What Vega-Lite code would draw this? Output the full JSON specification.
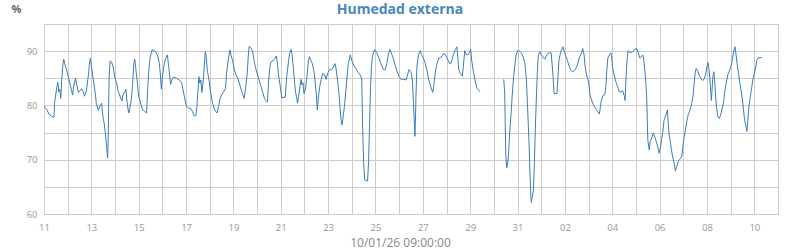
{
  "$schema": "https://vega.github.io/schema/vega-lite/v6.json",
  "width": 734,
  "height": 190,
  "autosize": {"type": "none"},
  "padding": {"left": 44, "top": 24, "right": 22, "bottom": 36},
  "background": "white",
  "title": {"text": "Humedad externa", "color": "#4a86c0", "fontSize": 14, "fontWeight": "bold", "font": "Open Sans", "anchor": "middle", "frame": "group", "offset": 9, "dx": -11, "dy": 34, "baseline": "alphabetic"},
  "config": {"view": {"stroke": "#cccccc", "strokeWidth": 1}, "font": "Open Sans"},
  "data": {"values": [
{"t":"2026-01-11T00:00Z","h":79.9},{"t":"2026-01-11T03:00Z","h":79.2},{"t":"2026-01-11T05:00Z","h":78.4},{"t":"2026-01-11T08:00Z","h":78.0},{"t":"2026-01-11T10:00Z","h":77.8},{"t":"2026-01-11T11:00Z","h":80.9},{"t":"2026-01-11T13:00Z","h":83.3},{"t":"2026-01-11T14:00Z","h":84.3},{"t":"2026-01-11T15:00Z","h":82.5},{"t":"2026-01-11T16:00Z","h":83.0},{"t":"2026-01-11T17:00Z","h":81.3},{"t":"2026-01-11T18:00Z","h":84.8},{"t":"2026-01-11T19:00Z","h":87.2},{"t":"2026-01-11T20:00Z","h":88.5},{"t":"2026-01-11T21:00Z","h":87.7},{"t":"2026-01-11T23:00Z","h":86.5},
{"t":"2026-01-12T01:00Z","h":85.0},{"t":"2026-01-12T03:00Z","h":83.5},{"t":"2026-01-12T05:00Z","h":81.9},{"t":"2026-01-12T06:00Z","h":83.5},{"t":"2026-01-12T08:00Z","h":85.0},{"t":"2026-01-12T09:00Z","h":83.9},{"t":"2026-01-12T11:00Z","h":82.4},{"t":"2026-01-12T13:00Z","h":82.8},{"t":"2026-01-12T14:00Z","h":83.1},{"t":"2026-01-12T16:00Z","h":82.5},{"t":"2026-01-12T17:00Z","h":81.7},{"t":"2026-01-12T19:00Z","h":82.7},{"t":"2026-01-12T21:00Z","h":85.6},{"t":"2026-01-12T22:00Z","h":87.6},{"t":"2026-01-12T23:00Z","h":88.7},
{"t":"2026-01-13T00:00Z","h":87.4},{"t":"2026-01-13T02:00Z","h":84.7},{"t":"2026-01-13T04:00Z","h":82.2},{"t":"2026-01-13T05:00Z","h":80.4},{"t":"2026-01-13T07:00Z","h":79.1},{"t":"2026-01-13T08:00Z","h":79.5},{"t":"2026-01-13T09:00Z","h":80.0},{"t":"2026-01-13T10:30Z","h":80.4},{"t":"2026-01-13T11:00Z","h":79.2},{"t":"2026-01-13T12:00Z","h":77.6},{"t":"2026-01-13T13:00Z","h":76.7},{"t":"2026-01-13T14:00Z","h":75.2},{"t":"2026-01-13T15:00Z","h":73.4},{"t":"2026-01-13T16:00Z","h":71.2},{"t":"2026-01-13T16:30Z","h":70.3},{"t":"2026-01-13T17:00Z","h":73.4},{"t":"2026-01-13T17:30Z","h":79.2},{"t":"2026-01-13T18:00Z","h":85.3},{"t":"2026-01-13T19:00Z","h":88.2},{"t":"2026-01-13T20:30Z","h":88.0},{"t":"2026-01-13T22:00Z","h":87.1},
{"t":"2026-01-14T00:00Z","h":85.0},{"t":"2026-01-14T02:00Z","h":83.8},{"t":"2026-01-14T03:00Z","h":82.7},{"t":"2026-01-14T05:00Z","h":81.7},{"t":"2026-01-14T07:00Z","h":80.8},{"t":"2026-01-14T08:00Z","h":81.9},{"t":"2026-01-14T09:30Z","h":82.4},{"t":"2026-01-14T11:00Z","h":83.0},{"t":"2026-01-14T12:00Z","h":81.0},{"t":"2026-01-14T13:00Z","h":79.5},{"t":"2026-01-14T14:00Z","h":78.6},{"t":"2026-01-14T15:00Z","h":79.5},{"t":"2026-01-14T16:30Z","h":81.0},{"t":"2026-01-14T18:00Z","h":84.4},{"t":"2026-01-14T19:00Z","h":87.7},{"t":"2026-01-14T20:00Z","h":88.5},{"t":"2026-01-14T21:00Z","h":86.8},{"t":"2026-01-14T22:30Z","h":84.4},
{"t":"2026-01-15T00:00Z","h":81.6},{"t":"2026-01-15T02:00Z","h":80.4},{"t":"2026-01-15T04:00Z","h":79.2},{"t":"2026-01-15T06:00Z","h":78.9},{"t":"2026-01-15T08:00Z","h":78.6},{"t":"2026-01-15T09:00Z","h":82.8},{"t":"2026-01-15T10:00Z","h":85.9},{"t":"2026-01-15T11:30Z","h":88.7},{"t":"2026-01-15T13:00Z","h":89.9},{"t":"2026-01-15T14:00Z","h":90.3},{"t":"2026-01-15T16:30Z","h":90.0},{"t":"2026-01-15T19:00Z","h":89.3},{"t":"2026-01-15T21:00Z","h":87.7},{"t":"2026-01-15T22:00Z","h":85.6},{"t":"2026-01-15T23:00Z","h":83.0},
{"t":"2026-01-16T00:00Z","h":85.3},{"t":"2026-01-16T02:00Z","h":87.7},{"t":"2026-01-16T03:30Z","h":88.8},{"t":"2026-01-16T05:00Z","h":89.3},{"t":"2026-01-16T06:30Z","h":87.1},{"t":"2026-01-16T08:00Z","h":84.4},{"t":"2026-01-16T08:30Z","h":83.9},{"t":"2026-01-16T09:30Z","h":84.7},{"t":"2026-01-16T11:00Z","h":85.2},{"t":"2026-01-16T14:30Z","h":85.0},{"t":"2026-01-16T17:00Z","h":84.7},{"t":"2026-01-16T19:30Z","h":84.2},{"t":"2026-01-16T21:00Z","h":82.8},{"t":"2026-01-16T23:00Z","h":81.0},
{"t":"2026-01-17T00:30Z","h":79.8},{"t":"2026-01-17T02:30Z","h":79.5},{"t":"2026-01-17T04:30Z","h":79.5},{"t":"2026-01-17T06:30Z","h":78.9},{"t":"2026-01-17T08:00Z","h":78.1},{"t":"2026-01-17T10:00Z","h":78.1},{"t":"2026-01-17T11:00Z","h":79.8},{"t":"2026-01-17T12:00Z","h":82.8},{"t":"2026-01-17T13:00Z","h":85.3},{"t":"2026-01-17T14:00Z","h":84.1},{"t":"2026-01-17T15:00Z","h":84.7},{"t":"2026-01-17T16:00Z","h":82.4},{"t":"2026-01-17T17:30Z","h":84.7},{"t":"2026-01-17T18:30Z","h":87.4},{"t":"2026-01-17T19:30Z","h":89.9},{"t":"2026-01-17T20:30Z","h":89.0},{"t":"2026-01-17T21:30Z","h":86.5},{"t":"2026-01-17T23:30Z","h":84.4},
{"t":"2026-01-18T01:00Z","h":82.2},{"t":"2026-01-18T02:30Z","h":80.7},{"t":"2026-01-18T04:30Z","h":79.5},{"t":"2026-01-18T06:00Z","h":78.9},{"t":"2026-01-18T07:30Z","h":78.6},{"t":"2026-01-18T09:00Z","h":79.8},{"t":"2026-01-18T10:30Z","h":81.3},{"t":"2026-01-18T12:00Z","h":81.9},{"t":"2026-01-18T14:00Z","h":82.5},{"t":"2026-01-18T16:00Z","h":83.1},{"t":"2026-01-18T17:00Z","h":85.9},{"t":"2026-01-18T19:00Z","h":88.7},{"t":"2026-01-18T20:30Z","h":90.2},{"t":"2026-01-18T21:30Z","h":89.3},{"t":"2026-01-18T23:30Z","h":88.0},
{"t":"2026-01-19T01:00Z","h":86.5},{"t":"2026-01-19T02:30Z","h":85.7},{"t":"2026-01-19T05:00Z","h":84.7},{"t":"2026-01-19T07:00Z","h":83.5},{"t":"2026-01-19T09:00Z","h":82.2},{"t":"2026-01-19T11:00Z","h":81.3},{"t":"2026-01-19T12:30Z","h":83.5},{"t":"2026-01-19T14:00Z","h":85.9},{"t":"2026-01-19T15:00Z","h":89.0},{"t":"2026-01-19T16:00Z","h":90.9},{"t":"2026-01-19T18:00Z","h":90.5},{"t":"2026-01-19T19:30Z","h":89.9},{"t":"2026-01-19T21:30Z","h":87.7},{"t":"2026-01-19T23:30Z","h":86.2},
{"t":"2026-01-20T01:30Z","h":85.0},{"t":"2026-01-20T03:30Z","h":83.8},{"t":"2026-01-20T05:30Z","h":82.5},{"t":"2026-01-20T07:30Z","h":81.3},{"t":"2026-01-20T09:00Z","h":80.9},{"t":"2026-01-20T10:30Z","h":80.6},{"t":"2026-01-20T11:30Z","h":84.1},{"t":"2026-01-20T13:00Z","h":87.1},{"t":"2026-01-20T14:00Z","h":88.0},{"t":"2026-01-20T16:00Z","h":88.2},{"t":"2026-01-20T17:30Z","h":88.5},{"t":"2026-01-20T19:30Z","h":89.1},{"t":"2026-01-20T20:30Z","h":88.0},{"t":"2026-01-20T21:30Z","h":85.9},{"t":"2026-01-20T23:30Z","h":83.5},
{"t":"2026-01-21T01:00Z","h":81.4},{"t":"2026-01-21T02:30Z","h":81.5},{"t":"2026-01-21T04:30Z","h":81.5},{"t":"2026-01-21T06:00Z","h":85.3},{"t":"2026-01-21T08:00Z","h":88.3},{"t":"2026-01-21T09:00Z","h":89.6},{"t":"2026-01-21T10:30Z","h":90.3},{"t":"2026-01-21T11:30Z","h":89.3},{"t":"2026-01-21T13:00Z","h":86.5},{"t":"2026-01-21T14:00Z","h":84.1},{"t":"2026-01-21T15:00Z","h":82.4},{"t":"2026-01-21T16:00Z","h":81.5},{"t":"2026-01-21T17:00Z","h":80.4},{"t":"2026-01-21T18:00Z","h":81.6},{"t":"2026-01-21T19:30Z","h":83.5},{"t":"2026-01-21T20:30Z","h":84.8},{"t":"2026-01-21T21:30Z","h":83.8},{"t":"2026-01-21T22:30Z","h":84.2},{"t":"2026-01-21T23:30Z","h":82.2},
{"t":"2026-01-22T01:00Z","h":83.0},{"t":"2026-01-22T02:30Z","h":85.3},{"t":"2026-01-22T04:00Z","h":88.3},{"t":"2026-01-22T05:00Z","h":89.0},{"t":"2026-01-22T06:30Z","h":88.3},{"t":"2026-01-22T08:00Z","h":87.7},{"t":"2026-01-22T10:00Z","h":85.9},{"t":"2026-01-22T11:00Z","h":84.1},{"t":"2026-01-22T12:00Z","h":82.2},{"t":"2026-01-22T13:00Z","h":79.2},{"t":"2026-01-22T14:00Z","h":81.3},{"t":"2026-01-22T15:30Z","h":83.5},{"t":"2026-01-22T17:00Z","h":84.8},{"t":"2026-01-22T18:30Z","h":85.9},{"t":"2026-01-22T20:30Z","h":85.6},{"t":"2026-01-22T22:00Z","h":84.8},{"t":"2026-01-22T23:30Z","h":85.9},
{"t":"2026-01-23T01:30Z","h":86.6},{"t":"2026-01-23T03:30Z","h":86.6},{"t":"2026-01-23T05:30Z","h":87.1},{"t":"2026-01-23T07:00Z","h":87.7},{"t":"2026-01-23T08:00Z","h":86.8},{"t":"2026-01-23T09:30Z","h":84.7},{"t":"2026-01-23T11:00Z","h":82.2},{"t":"2026-01-23T12:00Z","h":79.8},{"t":"2026-01-23T13:00Z","h":77.6},{"t":"2026-01-23T14:00Z","h":76.4},{"t":"2026-01-23T15:00Z","h":77.6},{"t":"2026-01-23T16:30Z","h":79.8},{"t":"2026-01-23T18:00Z","h":82.8},{"t":"2026-01-23T19:30Z","h":85.9},{"t":"2026-01-23T20:30Z","h":87.7},{"t":"2026-01-23T22:30Z","h":89.3},
{"t":"2026-01-24T00:00Z","h":88.3},{"t":"2026-01-24T02:00Z","h":87.4},{"t":"2026-01-24T04:00Z","h":86.8},{"t":"2026-01-24T06:00Z","h":86.2},{"t":"2026-01-24T08:00Z","h":85.8},{"t":"2026-01-24T10:00Z","h":85.0},{"t":"2026-01-24T11:00Z","h":75.8},{"t":"2026-01-24T12:00Z","h":69.5},{"t":"2026-01-24T13:00Z","h":66.3},{"t":"2026-01-24T16:00Z","h":66.1},{"t":"2026-01-24T17:00Z","h":69.6},{"t":"2026-01-24T18:00Z","h":76.5},{"t":"2026-01-24T19:00Z","h":83.5},{"t":"2026-01-24T20:00Z","h":87.4},{"t":"2026-01-24T21:00Z","h":89.0},{"t":"2026-01-24T23:00Z","h":90.3},
{"t":"2026-01-25T01:30Z","h":89.6},{"t":"2026-01-25T03:30Z","h":88.7},{"t":"2026-01-25T05:30Z","h":87.7},{"t":"2026-01-25T08:00Z","h":86.6},{"t":"2026-01-25T10:00Z","h":86.6},{"t":"2026-01-25T11:30Z","h":87.7},{"t":"2026-01-25T13:00Z","h":89.3},{"t":"2026-01-25T14:30Z","h":90.3},{"t":"2026-01-25T16:00Z","h":89.7},{"t":"2026-01-25T18:00Z","h":88.7},{"t":"2026-01-25T20:00Z","h":87.4},{"t":"2026-01-25T22:00Z","h":86.2},
{"t":"2026-01-26T00:00Z","h":85.3},{"t":"2026-01-26T02:00Z","h":84.8},{"t":"2026-01-26T04:30Z","h":84.8},{"t":"2026-01-26T07:00Z","h":84.7},{"t":"2026-01-26T08:30Z","h":85.6},{"t":"2026-01-26T10:00Z","h":86.6},{"t":"2026-01-26T12:00Z","h":86.2},{"t":"2026-01-26T13:30Z","h":84.5},{"t":"2026-01-26T14:30Z","h":80.4},{"t":"2026-01-26T15:30Z","h":76.4},{"t":"2026-01-26T16:00Z","h":74.3},{"t":"2026-01-26T16:30Z","h":77.3},{"t":"2026-01-26T17:00Z","h":81.6},{"t":"2026-01-26T18:00Z","h":87.1},{"t":"2026-01-26T19:30Z","h":89.3},{"t":"2026-01-26T21:30Z","h":90.1},{"t":"2026-01-26T22:30Z","h":89.4},
{"t":"2026-01-27T00:30Z","h":88.8},{"t":"2026-01-27T02:30Z","h":87.7},{"t":"2026-01-27T04:30Z","h":86.2},{"t":"2026-01-27T06:00Z","h":84.7},{"t":"2026-01-27T08:00Z","h":83.5},{"t":"2026-01-27T10:00Z","h":82.4},{"t":"2026-01-27T11:00Z","h":83.5},{"t":"2026-01-27T12:30Z","h":85.9},{"t":"2026-01-27T14:00Z","h":87.4},{"t":"2026-01-27T16:00Z","h":88.7},{"t":"2026-01-27T17:30Z","h":88.8},{"t":"2026-01-27T19:30Z","h":89.0},{"t":"2026-01-27T21:30Z","h":89.6},{"t":"2026-01-27T23:00Z","h":89.3},
{"t":"2026-01-28T00:30Z","h":88.7},{"t":"2026-01-28T02:30Z","h":88.0},{"t":"2026-01-28T04:00Z","h":87.6},{"t":"2026-01-28T05:30Z","h":88.3},{"t":"2026-01-28T07:00Z","h":89.4},{"t":"2026-01-28T09:00Z","h":90.3},{"t":"2026-01-28T10:30Z","h":90.8},{"t":"2026-01-28T11:30Z","h":88.7},{"t":"2026-01-28T12:30Z","h":86.5},{"t":"2026-01-28T14:00Z","h":85.9},{"t":"2026-01-28T16:00Z","h":85.4},{"t":"2026-01-28T17:00Z","h":87.1},{"t":"2026-01-28T18:30Z","h":90.1},{"t":"2026-01-28T20:00Z","h":89.4},{"t":"2026-01-28T21:30Z","h":89.3},{"t":"2026-01-28T23:00Z","h":89.7},
{"t":"2026-01-29T00:30Z","h":90.3},{"t":"2026-01-29T01:30Z","h":88.3},{"t":"2026-01-29T03:00Z","h":86.5},{"t":"2026-01-29T04:30Z","h":85.0},{"t":"2026-01-29T05:30Z","h":84.1},{"t":"2026-01-29T07:00Z","h":83.1},{"t":"2026-01-29T08:30Z","h":82.8},{"t":"2026-01-29T10:00Z","h":82.5},{"t":"2026-01-29T22:00Z","h":null},
{"t":"2026-01-30T10:00Z","h":84.8},{"t":"2026-01-30T11:00Z","h":82.2},{"t":"2026-01-30T11:30Z","h":76.7},{"t":"2026-01-30T12:00Z","h":71.2},{"t":"2026-01-30T13:00Z","h":68.5},{"t":"2026-01-30T14:00Z","h":69.4},{"t":"2026-01-30T15:00Z","h":71.2},{"t":"2026-01-30T16:00Z","h":74.9},{"t":"2026-01-30T17:30Z","h":78.6},{"t":"2026-01-30T18:30Z","h":81.6},{"t":"2026-01-30T20:00Z","h":85.3},{"t":"2026-01-30T21:30Z","h":87.7},{"t":"2026-01-30T22:30Z","h":89.3},
{"t":"2026-01-31T00:30Z","h":90.2},{"t":"2026-01-31T02:30Z","h":89.9},{"t":"2026-01-31T04:00Z","h":89.6},{"t":"2026-01-31T05:30Z","h":89.0},{"t":"2026-01-31T07:30Z","h":87.7},{"t":"2026-01-31T09:00Z","h":84.7},{"t":"2026-01-31T10:00Z","h":80.4},{"t":"2026-01-31T11:30Z","h":73.7},{"t":"2026-01-31T12:30Z","h":68.2},{"t":"2026-01-31T13:30Z","h":63.3},{"t":"2026-01-31T14:00Z","h":62.1},{"t":"2026-01-31T15:00Z","h":63.3},{"t":"2026-01-31T16:00Z","h":64.2},{"t":"2026-01-31T17:00Z","h":68.8},{"t":"2026-01-31T18:00Z","h":75.5},{"t":"2026-01-31T19:00Z","h":81.0},{"t":"2026-01-31T20:00Z","h":85.9},{"t":"2026-01-31T21:00Z","h":89.1},{"t":"2026-01-31T22:30Z","h":89.9},
{"t":"2026-02-01T00:00Z","h":89.4},{"t":"2026-02-01T01:30Z","h":89.0},{"t":"2026-02-01T03:30Z","h":88.5},{"t":"2026-02-01T05:00Z","h":89.1},{"t":"2026-02-01T07:00Z","h":89.6},{"t":"2026-02-01T08:30Z","h":89.7},{"t":"2026-02-01T10:00Z","h":89.7},{"t":"2026-02-01T11:00Z","h":87.7},{"t":"2026-02-01T12:00Z","h":85.3},{"t":"2026-02-01T13:00Z","h":82.2},{"t":"2026-02-01T16:00Z","h":82.2},{"t":"2026-02-01T17:00Z","h":85.3},{"t":"2026-02-01T18:00Z","h":88.3},{"t":"2026-02-01T19:30Z","h":89.7},{"t":"2026-02-01T20:30Z","h":90.2},{"t":"2026-02-01T22:00Z","h":90.8},{"t":"2026-02-01T23:30Z","h":89.9},
{"t":"2026-02-02T00:30Z","h":89.3},{"t":"2026-02-02T02:30Z","h":88.3},{"t":"2026-02-02T04:00Z","h":87.4},{"t":"2026-02-02T06:00Z","h":86.5},{"t":"2026-02-02T08:00Z","h":86.2},{"t":"2026-02-02T10:00Z","h":86.5},{"t":"2026-02-02T12:00Z","h":87.1},{"t":"2026-02-02T13:30Z","h":88.0},{"t":"2026-02-02T15:00Z","h":89.0},{"t":"2026-02-02T17:00Z","h":89.7},{"t":"2026-02-02T18:00Z","h":90.5},{"t":"2026-02-02T19:30Z","h":89.3},{"t":"2026-02-02T20:30Z","h":87.1},{"t":"2026-02-02T22:00Z","h":85.6},{"t":"2026-02-02T23:30Z","h":84.7},
{"t":"2026-02-03T00:30Z","h":83.5},{"t":"2026-02-03T01:30Z","h":81.9},{"t":"2026-02-03T03:00Z","h":81.0},{"t":"2026-02-03T05:00Z","h":80.1},{"t":"2026-02-03T07:00Z","h":79.5},{"t":"2026-02-03T09:00Z","h":78.9},{"t":"2026-02-03T11:00Z","h":78.4},{"t":"2026-02-03T12:00Z","h":79.8},{"t":"2026-02-03T13:00Z","h":80.9},{"t":"2026-02-03T14:30Z","h":81.8},{"t":"2026-02-03T16:30Z","h":82.0},{"t":"2026-02-03T17:30Z","h":83.5},{"t":"2026-02-03T18:30Z","h":86.5},{"t":"2026-02-03T19:30Z","h":88.7},{"t":"2026-02-03T21:00Z","h":89.3},{"t":"2026-02-03T22:30Z","h":89.7},{"t":"2026-02-03T23:30Z","h":88.7},
{"t":"2026-02-04T00:30Z","h":86.8},{"t":"2026-02-04T02:00Z","h":85.6},{"t":"2026-02-04T03:30Z","h":84.4},{"t":"2026-02-04T05:30Z","h":83.5},{"t":"2026-02-04T07:00Z","h":82.5},{"t":"2026-02-04T09:00Z","h":82.5},{"t":"2026-02-04T10:30Z","h":82.7},{"t":"2026-02-04T12:00Z","h":81.9},{"t":"2026-02-04T13:00Z","h":80.9},{"t":"2026-02-04T14:00Z","h":85.3},{"t":"2026-02-04T15:00Z","h":88.3},{"t":"2026-02-04T16:00Z","h":90.1},{"t":"2026-02-04T18:00Z","h":89.7},{"t":"2026-02-04T20:30Z","h":89.9},{"t":"2026-02-04T22:30Z","h":90.3},
{"t":"2026-02-05T00:30Z","h":90.5},{"t":"2026-02-05T02:30Z","h":89.6},{"t":"2026-02-05T04:00Z","h":88.7},{"t":"2026-02-05T05:30Z","h":89.0},{"t":"2026-02-05T07:00Z","h":89.3},{"t":"2026-02-05T08:00Z","h":88.3},{"t":"2026-02-05T09:00Z","h":86.5},{"t":"2026-02-05T10:00Z","h":84.4},{"t":"2026-02-05T11:00Z","h":81.0},{"t":"2026-02-05T11:30Z","h":77.6},{"t":"2026-02-05T12:00Z","h":73.7},{"t":"2026-02-05T13:30Z","h":71.8},{"t":"2026-02-05T14:30Z","h":73.4},{"t":"2026-02-05T16:00Z","h":74.0},{"t":"2026-02-05T17:30Z","h":74.9},{"t":"2026-02-05T19:30Z","h":74.0},{"t":"2026-02-05T21:00Z","h":73.1},{"t":"2026-02-05T22:30Z","h":72.1},{"t":"2026-02-05T23:30Z","h":71.2},
{"t":"2026-02-06T01:00Z","h":72.4},{"t":"2026-02-06T02:00Z","h":73.7},{"t":"2026-02-06T03:30Z","h":75.5},{"t":"2026-02-06T04:30Z","h":77.3},{"t":"2026-02-06T06:30Z","h":78.3},{"t":"2026-02-06T08:00Z","h":79.2},{"t":"2026-02-06T08:30Z","h":77.3},{"t":"2026-02-06T09:30Z","h":74.9},{"t":"2026-02-06T11:00Z","h":73.1},{"t":"2026-02-06T12:00Z","h":71.8},{"t":"2026-02-06T13:30Z","h":70.3},{"t":"2026-02-06T15:00Z","h":69.1},{"t":"2026-02-06T16:00Z","h":67.9},{"t":"2026-02-06T17:30Z","h":68.8},{"t":"2026-02-06T19:00Z","h":69.7},{"t":"2026-02-06T20:30Z","h":70.1},{"t":"2026-02-06T22:30Z","h":70.6},{"t":"2026-02-06T23:30Z","h":72.4},
{"t":"2026-02-07T01:00Z","h":74.3},{"t":"2026-02-07T02:30Z","h":75.8},{"t":"2026-02-07T03:30Z","h":77.0},{"t":"2026-02-07T05:00Z","h":78.3},{"t":"2026-02-07T07:00Z","h":79.2},{"t":"2026-02-07T08:30Z","h":80.4},{"t":"2026-02-07T10:00Z","h":81.9},{"t":"2026-02-07T11:00Z","h":84.1},{"t":"2026-02-07T12:00Z","h":85.9},{"t":"2026-02-07T13:00Z","h":86.8},{"t":"2026-02-07T14:30Z","h":86.4},{"t":"2026-02-07T16:00Z","h":85.6},{"t":"2026-02-07T18:00Z","h":85.0},{"t":"2026-02-07T19:30Z","h":84.6},{"t":"2026-02-07T21:00Z","h":84.8},{"t":"2026-02-07T22:30Z","h":85.6},
{"t":"2026-02-08T00:00Z","h":87.1},{"t":"2026-02-08T01:00Z","h":87.9},{"t":"2026-02-08T02:00Z","h":86.8},{"t":"2026-02-08T03:00Z","h":84.7},{"t":"2026-02-08T04:00Z","h":82.2},{"t":"2026-02-08T04:30Z","h":80.9},{"t":"2026-02-08T05:00Z","h":82.5},{"t":"2026-02-08T06:00Z","h":85.3},{"t":"2026-02-08T07:00Z","h":86.2},{"t":"2026-02-08T08:00Z","h":84.1},{"t":"2026-02-08T09:00Z","h":81.0},{"t":"2026-02-08T10:00Z","h":79.2},{"t":"2026-02-08T11:00Z","h":77.9},{"t":"2026-02-08T12:30Z","h":77.6},{"t":"2026-02-08T14:00Z","h":78.3},{"t":"2026-02-08T15:30Z","h":79.5},{"t":"2026-02-08T17:00Z","h":80.7},{"t":"2026-02-08T18:00Z","h":82.5},{"t":"2026-02-08T19:30Z","h":84.1},{"t":"2026-02-08T21:00Z","h":85.6},{"t":"2026-02-08T22:30Z","h":86.2},{"t":"2026-02-08T23:30Z","h":86.8},
{"t":"2026-02-09T01:00Z","h":87.7},{"t":"2026-02-09T02:30Z","h":89.3},{"t":"2026-02-09T03:30Z","h":90.3},{"t":"2026-02-09T04:30Z","h":90.8},{"t":"2026-02-09T05:30Z","h":89.3},{"t":"2026-02-09T06:30Z","h":87.7},{"t":"2026-02-09T08:00Z","h":85.9},{"t":"2026-02-09T09:00Z","h":84.4},{"t":"2026-02-09T10:30Z","h":82.8},{"t":"2026-02-09T12:00Z","h":81.0},{"t":"2026-02-09T13:00Z","h":79.2},{"t":"2026-02-09T14:00Z","h":77.6},{"t":"2026-02-09T15:30Z","h":76.1},{"t":"2026-02-09T16:30Z","h":75.2},{"t":"2026-02-09T17:30Z","h":77.3},{"t":"2026-02-09T18:30Z","h":79.8},{"t":"2026-02-09T20:00Z","h":81.6},{"t":"2026-02-09T21:30Z","h":83.5},{"t":"2026-02-09T22:30Z","h":84.7},
{"t":"2026-02-10T00:00Z","h":85.9},{"t":"2026-02-10T01:30Z","h":87.1},{"t":"2026-02-10T02:30Z","h":88.3},{"t":"2026-02-10T04:00Z","h":88.8},{"t":"2026-02-10T07:30Z","h":88.8}
  ]},
  "mark": {"type": "line", "color": "#3a7dbd", "strokeWidth": 1, "clip": true},
  "encoding": {
    "x": {
      "field": "t", "type": "temporal",
      "scale": {"type": "utc", "domain": [{"year": 2026, "month": 1, "date": 11, "utc": true}, {"year": 2026, "month": 2, "date": 11, "utc": true}], "nice": false},
      "axis": {
        "tickCount": {"interval": "day", "step": 1},
        "labelExpr": "(round((datum.value - 1768089600000) / 86400000) % 2 == 0) ? utcFormat(datum.value, '%d') : ''",
        "grid": true, "gridColor": "#cccccc", "gridWidth": 1,
        "ticks": false, "domain": false,
        "labelFontSize": 9.5, "labelColor": "#999999", "labelPadding": 8, "labelFlush": false, "labelOverlap": false, "labelFont": "Open Sans",
        "title": "10/01/26 09:00:00", "titleFontSize": 12, "titleFontWeight": "normal", "titleColor": "#888888", "titleFont": "Open Sans",
        "titleX": 356, "titleY": 32, "titleAlign": "center", "titleBaseline": "alphabetic"
      }
    },
    "y": {
      "field": "h", "type": "quantitative",
      "scale": {"domain": [60, 95], "nice": false, "zero": false},
      "axis": {
        "values": [60, 65, 70, 75, 80, 85, 90, 95],
        "labelExpr": "datum.value % 10 == 0 ? datum.label : ''",
        "grid": true, "gridColor": "#cccccc", "gridWidth": 1,
        "ticks": false, "domain": false,
        "labelFontSize": 9.5, "labelColor": "#999999", "labelPadding": 7, "labelFont": "Open Sans",
        "title": "%", "titleAngle": 0, "titleX": -28, "titleY": -12, "titleAlign": "center", "titleBaseline": "alphabetic",
        "titleFontSize": 11, "titleFontWeight": "bold", "titleColor": "#666666", "titleFont": "Open Sans"
      }
    }
  }
}
